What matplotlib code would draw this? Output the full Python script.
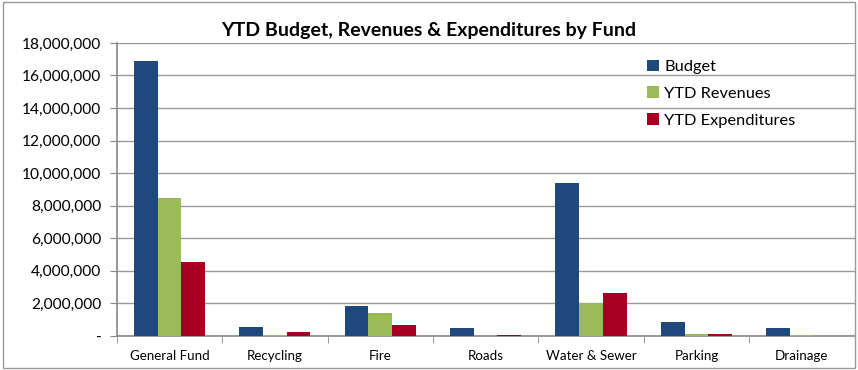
import matplotlib.pyplot as plt
import matplotlib.ticker as mticker
from matplotlib.patches import Rectangle
import numpy as np

plt.rcParams['font.family'] = ['Lato', 'DejaVu Sans']

funds = ['General Fund', 'Recycling', 'Fire', 'Roads', 'Water & Sewer',
         'Parking', 'Drainage']
budget = [16900000, 520000, 1850000, 500000, 9400000, 850000, 500000]
revenues = [8450000, 50000, 1380000, 0, 2000000, 150000, 50000]
expenditures = [4550000, 270000, 680000, 50000, 2620000, 120000, 0]

series = [('Budget', budget, '#1f497d'),
          ('YTD Revenues', revenues, '#9bbb59'),
          ('YTD Expenditures', expenditures, '#a50021')]

fig = plt.figure(figsize=(8.58, 3.70), dpi=100)
ax = fig.add_axes([0.136, 0.092, 0.86, 0.792])

x = np.arange(len(funds))
w = 0.225
for i, (name, vals, col) in enumerate(series):
    ax.bar(x + (i - 1) * w, vals, w, color=col, label=name, zorder=3)

ax.set_xlim(-0.5, len(funds) - 0.5)
ax.set_ylim(0, 18000000)
ax.yaxis.set_major_locator(mticker.MultipleLocator(2000000))
ax.yaxis.set_major_formatter(mticker.FuncFormatter(
    lambda v, p: '-' if v == 0 else f'{v:,.0f}'))
ax.set_xticks(x)
ax.set_xticklabels(funds)
ax.set_xticks(np.arange(len(funds) + 1) - 0.5, minor=True)
ax.tick_params(axis='x', which='major', length=0, pad=10, labelsize=9.6)
ax.tick_params(axis='x', which='minor', length=5, color='#888888')
ax.tick_params(axis='y', length=5, color='#888888', labelsize=11.2, pad=6)

ax.grid(axis='y', color='#999999', linewidth=1, zorder=0)
for s in ['top', 'right']:
    ax.spines[s].set_visible(False)
for s in ['left', 'bottom']:
    ax.spines[s].set_color('#888888')
    ax.spines[s].set_linewidth(1.2)

ax.legend(loc='upper left', bbox_to_anchor=(0.71, 0.965), frameon=False,
          fontsize=11.8, handlelength=0.7, handleheight=0.7,
          handletextpad=0.35, labelspacing=0.75, borderaxespad=0)

fig.text(0.5, 0.918, 'YTD Budget, Revenues & Expenditures by Fund',
         ha='center', va='center', fontsize=14, fontweight='bold')

fig.patches.append(Rectangle((0.004, 0.005), 0.992, 0.99,
                             transform=fig.transFigure, fill=False,
                             edgecolor='#999999', linewidth=1))

fig.savefig('out.png', dpi=100)
